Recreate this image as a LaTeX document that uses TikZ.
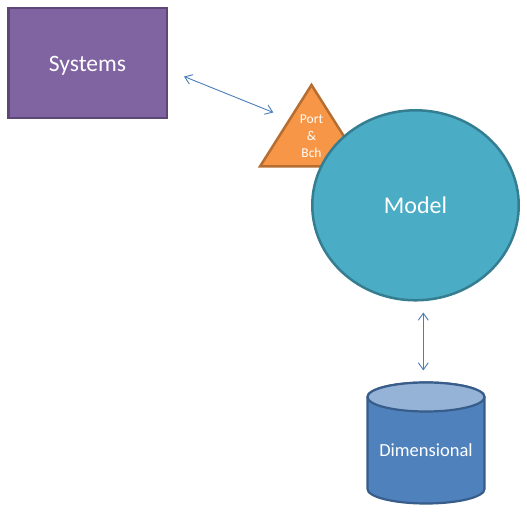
\documentclass[tikz,border=0pt]{standalone}
\usepackage{fontspec}
\setmainfont{Carlito}
\usetikzlibrary{arrows.meta,shapes.geometric}
\definecolor{purpfill}{HTML}{8064A2}
\definecolor{purpline}{HTML}{5C4776}
\definecolor{orfill}{HTML}{F79646}
\definecolor{orline}{HTML}{B66D31}
\definecolor{aqfill}{HTML}{4BACC6}
\definecolor{aqline}{HTML}{357D91}
\definecolor{blfill}{HTML}{4F81BD}
\definecolor{blline}{HTML}{385D8A}
\definecolor{bltop}{HTML}{95B3D7}
\definecolor{arrowc}{HTML}{4A7EBB}
\tikzset{
  conn/.style={draw=arrowc, line width=0.9pt, {Straight Barb[length=7pt,width=10pt]}-{Straight Barb[length=7pt,width=10pt]}},
  lbl/.style={text=white, inner sep=0pt}
}
\begin{document}
\begin{tikzpicture}[x=1pt,y=1pt]
\useasboundingbox (0,0) rectangle (527,513);
% Systems
\node[draw=purpline, fill=purpfill, line width=2.5pt, minimum width=158.5pt, minimum height=110pt, inner sep=0pt] (sys) at (87.5,450) {};
\node[lbl, font=\fontsize{23.5}{28}\selectfont] (systxt) at (87.5,447.5) {Systems};
% Triangle
\coordinate (tA) at (311.5,428);
\coordinate (tL) at (260,346.5);
\coordinate (tR) at (363,346.5);
\filldraw[fill=orfill, draw=orline, line width=2.5pt, line join=miter] (tA) -- (tL) -- (tR) -- cycle;
\node[lbl, align=center, font=\fontsize{13.5}{17}\selectfont] (port) at (311.5,376.5) {Port\\\&\\Bch};
% Model
\node[ellipse, draw=aqline, fill=aqfill, line width=2.5pt, minimum width=206.5pt, minimum height=190pt, inner sep=0pt,
      text=white, font=\fontsize{24}{28}\selectfont] (model) at (415.5,307.7) {Model};
% Cylinder
\coordinate (cylTop) at (426,116);
\coordinate (cylBot) at (426,24);
\filldraw[fill=blfill, draw=blline, line width=2.2pt]
  (367.5,116) -- (367.5,24) arc[start angle=180, end angle=360, x radius=58.5, y radius=14.5]
  -- (484.5,116) arc[start angle=0, end angle=180, x radius=58.5, y radius=14.5] -- cycle;
\filldraw[fill=bltop, draw=blline, line width=2.2pt] (cylTop) ellipse[x radius=58.5, y radius=14.5];
\node[lbl, font=\fontsize{18.5}{22}\selectfont] (dim) at (426,63) {Dimensional};
% connectors
\coordinate (a1s) at (184,436.5);
\coordinate (a1e) at (273.3,400.5);
\draw[conn] (a1s) -- (a1e);
\coordinate (a2s) at (423.3,200.5);
\coordinate (a2e) at (423.3,142.5);
\draw[conn] (a2s) -- (a2e);
\end{tikzpicture}
\end{document}
